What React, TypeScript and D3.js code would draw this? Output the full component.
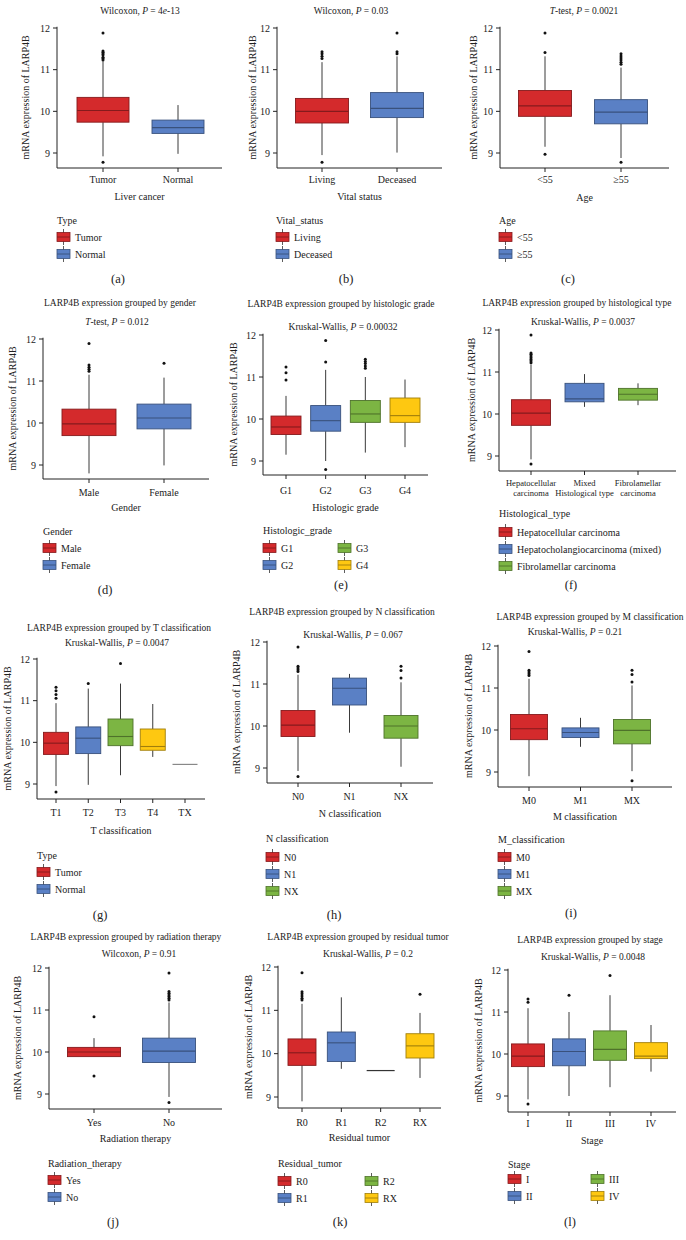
import React from 'react';
import * as d3 from 'd3';

const PALETTE = ['#D42A2C', '#5A80C5', '#7CB543', '#FEC811', '#9E9E9E'];
const FONT = 'Liberation Serif, Times New Roman, serif';

// ---- data: each box = [lowWhisker, q1, median, q3, highWhisker]
const catsA = ['Tumor', 'Normal'];
const boxA = [[8.92, 9.74, 10.02, 10.335, 11.2], [8.98, 9.47, 9.61, 9.79, 10.15]];
const outA = [[11.88, 11.45, 11.42, 11.38, 11.35, 11.3, 11.27, 11.23, 8.78], []];

const catsB = ['Living', 'Deceased'];
const boxB = [[8.95, 9.72, 10.0, 10.31, 11.18], [9.01, 9.85, 10.07, 10.45, 11.32]];
const outB = [[11.43, 11.38, 11.32, 11.27, 8.78], [11.88, 11.43, 11.38]];

const catsC = ['<55', '≥55'];
const boxC = [[9.15, 9.88, 10.13, 10.5, 11.32], [8.88, 9.7, 9.98, 10.28, 11.05]];
const outC = [[11.88, 11.41, 8.97], [11.38, 11.33, 11.28, 11.23, 11.18, 11.13, 8.78]];

const catsD = ['Male', 'Female'];
const boxD = [[8.8, 9.7, 9.98, 10.33, 11.15], [8.99, 9.86, 10.12, 10.45, 11.08]];
const outD = [[11.89, 11.38, 11.33, 11.28, 11.23], [11.42]];

const catsE = ['G1', 'G2', 'G3', 'G4'];
const boxE = [[9.15, 9.63, 9.81, 10.07, 10.55], [9.0, 9.71, 9.96, 10.32, 11.17], [9.2, 9.92, 10.12, 10.44, 11.0], [9.33, 9.92, 10.08, 10.5, 10.94]];
const outE = [[11.24, 11.1, 10.93], [11.87, 11.36, 8.8], [11.42, 11.37, 11.32, 11.26, 11.21], []];

const catsF = ['Hepatocellular\ncarcinoma', 'Mixed\nHistological type', 'Fibrolamellar\ncarcinoma'];
const boxF = [[8.92, 9.73, 10.02, 10.34, 11.18], [10.17, 10.29, 10.36, 10.73, 10.95], [10.21, 10.33, 10.47, 10.61, 10.73]];
const outF = [[11.88, 11.45, 11.42, 11.38, 11.34, 11.3, 11.26, 11.22, 8.81], [], []];

const catsG = ['T1', 'T2', 'T3', 'T4', 'TX'];
const boxG = [[8.95, 9.71, 9.98, 10.24, 10.94], [8.98, 9.73, 10.1, 10.37, 11.29], [9.21, 9.92, 10.14, 10.56, 11.41], [9.65, 9.81, 9.9, 10.32, 10.92], [9.47, 9.47, 9.47, 9.47, 9.47]];
const outG = [[11.32, 11.24, 11.15, 11.06, 8.81], [11.41], [11.89], [], []];

const catsH = ['N0', 'N1', 'NX'];
const boxH = [[8.93, 9.75, 10.02, 10.37, 11.22], [9.84, 10.5, 10.9, 11.14, 11.24], [9.03, 9.71, 10.0, 10.25, 11.04]];
const outH = [[11.88, 11.42, 11.38, 11.34, 11.3, 8.8], [], [11.42, 11.32, 11.14]];

const catsI = ['M0', 'M1', 'MX'];
const boxI = [[8.9, 9.77, 10.03, 10.37, 11.22], [9.6, 9.82, 9.94, 10.05, 10.29], [9.02, 9.67, 9.99, 10.25, 11.06]];
const outI = [[11.87, 11.42, 11.38, 11.34, 11.3], [], [11.42, 11.32, 11.14, 8.79]];

const catsJ = ['Yes', 'No'];
const boxJ = [[9.89, 9.89, 10.0, 10.11, 10.33], [8.93, 9.75, 10.02, 10.33, 11.18]];
const outJ = [[10.84, 9.43], [11.88, 11.44, 11.4, 11.36, 11.32, 11.28, 11.24, 8.8]];

const catsK = ['R0', 'R1', 'R2', 'RX'];
const boxK = [[8.9, 9.73, 10.02, 10.34, 11.15], [9.65, 9.82, 10.25, 10.5, 11.3], [9.61, 9.61, 9.61, 9.61, 9.61], [9.44, 9.9, 10.18, 10.46, 10.94]];
const outK = [[11.87, 11.43, 11.38, 11.33, 11.28, 11.24], [], [], [11.37]];

const catsL = ['I', 'II', 'III', 'IV'];
const boxL = [[8.92, 9.7, 9.95, 10.24, 11.09], [9.0, 9.72, 10.06, 10.36, 11.0], [9.21, 9.85, 10.11, 10.55, 11.4], [9.58, 9.89, 9.95, 10.27, 10.69]];
const outL = [[11.31, 11.23, 8.81], [11.4], [11.87], []];

const yTicks = [9, 10, 11, 12];

type Seg = { t: string; i?: boolean };

// ---- text and layout per panel
const panels = [
  {
    id: 'a', cats: catsA, box: boxA, out: outA,
    title: null, sub: [{ t: 'Wilcoxon, ' }, { t: 'P', i: true }, { t: ' = 4' }, { t: 'e', i: true }, { t: '-13' }],
    xTitle: 'Liver cancer', legTitle: 'Type', legend: [['Tumor', 'Normal']],
    L: { left: 57, right: 222, c0: 103, c1: 178, y12: 28, y9: 153, bottom: 168, bw: 52, tx: 0, tY: 0, sx: 140, sY: 11, ylx: 25, tickY: 179, xtY: 196, legX: 57, legCol: 0, legTY: 220, legY0: 237, lab: [118, 279] },
  },
  {
    id: 'b', cats: catsB, box: boxB, out: outB,
    title: null, sub: [{ t: 'Wilcoxon, ' }, { t: 'P', i: true }, { t: ' = 0.03' }],
    xTitle: 'Vital status', legTitle: 'Vital_status', legend: [['Living', 'Deceased']],
    L: { left: 277, right: 442, c0: 322, c1: 397, y12: 28, y9: 153, bottom: 168, bw: 53, tx: 0, tY: 0, sx: 351, sY: 11, ylx: 252, tickY: 179, xtY: 196, legX: 276, legCol: 0, legTY: 220, legY0: 237, lab: [346, 279] },
  },
  {
    id: 'c', cats: catsC, box: boxC, out: outC,
    title: null, sub: [{ t: 'T', i: true }, { t: '-test, ' }, { t: 'P', i: true }, { t: ' = 0.0021' }],
    xTitle: 'Age', legTitle: 'Age', legend: [['<55', '≥55']],
    L: { left: 500, right: 669, c0: 545, c1: 621, y12: 28, y9: 153, bottom: 168, bw: 53, tx: 0, tY: 0, sx: 584, sY: 11, ylx: 473, tickY: 179, xtY: 197, legX: 499, legCol: 0, legTY: 220, legY0: 237, lab: [568, 279] },
  },
  {
    id: 'd', cats: catsD, box: boxD, out: outD,
    title: 'LARP4B expression grouped by gender', sub: [{ t: 'T', i: true }, { t: '-test, ' }, { t: 'P', i: true }, { t: ' = 0.012' }],
    xTitle: 'Gender', legTitle: 'Gender', legend: [['Male', 'Female']],
    L: { left: 43, right: 209, c0: 89, c1: 164, y12: 339, y9: 465, bottom: 479, bw: 54, tx: 120, tY: 303, sx: 117, sY: 322, ylx: 12, tickY: 492, xtY: 507, legX: 43, legCol: 0, legTY: 531, legY0: 548, lab: [105, 590] },
  },
  {
    id: 'e', cats: catsE, box: boxE, out: outE,
    title: 'LARP4B expression grouped by histologic grade', sub: [{ t: 'Kruskal-Wallis, ' }, { t: 'P', i: true }, { t: ' = 0.00032' }],
    xTitle: 'Histologic grade', legTitle: 'Histologic_grade', legend: [['G1', 'G2'], ['G3', 'G4']],
    L: { left: 263, right: 428, c0: 286, c1: 405, y12: 335, y9: 461, bottom: 475, bw: 30, tx: 341, tY: 304, sx: 343, sY: 327, ylx: 233, tickY: 490, xtY: 507, legX: 263, legCol: 75, legTY: 530, legY0: 548, lab: [341, 585] },
  },
  {
    id: 'f', cats: catsF, box: boxF, out: outF,
    title: 'LARP4B expression grouped by histological type', sub: [{ t: 'Kruskal-Wallis, ' }, { t: 'P', i: true }, { t: ' = 0.0037' }],
    xTitle: '', legTitle: 'Histological_type', legend: [['Hepatocellular carcinoma', 'Hepatocholangiocarcinoma (mixed)', 'Fibrolamellar carcinoma']],
    L: { left: 499, right: 676, c0: 531, c1: 638, y12: 330, y9: 456, bottom: 471, bw: 39, tx: 577, tY: 303, sx: 583, sY: 322, ylx: 471, tickY: 483, xtY: 0, legX: 499, legCol: 0, legTY: 513, legY0: 532, lab: [571, 585] },
  },
  {
    id: 'g', cats: catsG, box: boxG, out: outG,
    title: 'LARP4B expression grouped by T classification', sub: [{ t: 'Kruskal-Wallis, ' }, { t: 'P', i: true }, { t: ' = 0.0047' }],
    xTitle: 'T classification', legTitle: 'Type', legend: [['Tumor', 'Normal']],
    L: { left: 37, right: 205, c0: 56, c1: 185, y12: 659, y9: 784, bottom: 799, bw: 25, tx: 119, tY: 628, sx: 117, sY: 643, ylx: 7, tickY: 812, xtY: 830, legX: 37, legCol: 0, legTY: 855, legY0: 872, lab: [100, 915] },
  },
  {
    id: 'h', cats: catsH, box: boxH, out: outH,
    title: 'LARP4B expression grouped by N classification', sub: [{ t: 'Kruskal-Wallis, ' }, { t: 'P', i: true }, { t: ' = 0.067' }],
    xTitle: 'N classification', legTitle: 'N classification', legend: [['N0', 'N1', 'NX']],
    L: { left: 267, right: 433, c0: 298, c1: 401, y12: 642, y9: 768, bottom: 783, bw: 34, tx: 342, tY: 612, sx: 353, sY: 635, ylx: 236, tickY: 796, xtY: 813, legX: 266, legCol: 0, legTY: 838, legY0: 857, lab: [334, 915] },
  },
  {
    id: 'i', cats: catsI, box: boxI, out: outI,
    title: 'LARP4B expression grouped by M classification', sub: [{ t: 'Kruskal-Wallis, ' }, { t: 'P', i: true }, { t: ' = 0.21' }],
    xTitle: 'M classification', legTitle: 'M_classification', legend: [['M0', 'M1', 'MX']],
    L: { left: 498, right: 672, c0: 529, c1: 632, y12: 646, y9: 772, bottom: 787, bw: 37, tx: 590, tY: 617, sx: 575, sY: 632, ylx: 468, tickY: 800, xtY: 816, legX: 498, legCol: 0, legTY: 839, legY0: 857, lab: [571, 913] },
  },
  {
    id: 'j', cats: catsJ, box: boxJ, out: outJ,
    title: 'LARP4B expression grouped by radiation therapy', sub: [{ t: 'Wilcoxon, ' }, { t: 'P', i: true }, { t: ' = 0.91' }],
    xTitle: 'Radiation therapy', legTitle: 'Radiation_therapy', legend: [['Yes', 'No']],
    L: { left: 49, right: 222, c0: 94, c1: 169, y12: 968, y9: 1094, bottom: 1109, bw: 53, tx: 126, tY: 937, sx: 139, sY: 954, ylx: 17, tickY: 1122, xtY: 1138, legX: 48, legCol: 0, legTY: 1163, legY0: 1180, lab: [113, 1222] },
  },
  {
    id: 'k', cats: catsK, box: boxK, out: outK,
    title: 'LARP4B expression grouped by residual tumor', sub: [{ t: 'Kruskal-Wallis, ' }, { t: 'P', i: true }, { t: ' = 0.2' }],
    xTitle: 'Residual tumor', legTitle: 'Residual_tumor', legend: [['R0', 'R1'], ['R2', 'RX']],
    L: { left: 278, right: 441, c0: 302, c1: 420, y12: 967, y9: 1097, bottom: 1108, bw: 28, tx: 358, tY: 937, sx: 368, sY: 954, ylx: 248, tickY: 1122, xtY: 1137, legX: 278, legCol: 87, legTY: 1163, legY0: 1181, lab: [340, 1222] },
  },
  {
    id: 'l', cats: catsL, box: boxL, out: outL,
    title: 'LARP4B expression grouped by stage', sub: [{ t: 'Kruskal-Wallis, ' }, { t: 'P', i: true }, { t: ' = 0.0048' }],
    xTitle: 'Stage', legTitle: 'Stage', legend: [['I', 'II'], ['III', 'IV']],
    L: { left: 508, right: 676, c0: 528, c1: 651, y12: 970, y9: 1096, bottom: 1112, bw: 33, tx: 590, tY: 940, sx: 593, sY: 957, ylx: 478, tickY: 1123, xtY: 1140, legX: 508, legCol: 83, legTY: 1164, legY0: 1179, lab: [570, 1222] },
  },
];

function Rich({ segs, x, y, size }: { segs: Seg[]; x: number; y: number; size: number }) {
  return (
    <text x={x} y={y} fontSize={size} textAnchor="middle" dominantBaseline="central" fontFamily={FONT} fill="#222">
      {segs.map((s, k) => (
        <tspan key={k} fontStyle={s.i ? 'italic' : 'normal'}>{s.t}</tspan>
      ))}
    </text>
  );
}

function LegendKey({ x, y, color }: { x: number; y: number; color: string }) {
  const dark = d3.color(color)!.darker(1.3).formatHex();
  return (
    <g>
      <line x1={x + 6.5} x2={x + 6.5} y1={y - 8} y2={y + 8} stroke="#333" strokeWidth={0.8} />
      <rect x={x} y={y - 4.5} width={13} height={9} fill={color} stroke={dark} strokeWidth={0.8} />
      <line x1={x} x2={x + 13} y1={y} y2={y} stroke={dark} strokeWidth={0.9} />
    </g>
  );
}

function Panel({ p }: { p: (typeof panels)[number] }) {
  const L = p.L;
  const y = d3.scaleLinear().domain([9, 12]).range([L.y9, L.y12]);
  const x = d3.scalePoint<string>().domain(p.cats).range([L.c0, L.c1]);
  const axisTop = y(12.03);
  const isF = p.id === 'f';
  let legIndex = 0;
  return (
    <g>
      {p.title && (
        <text x={L.tx} y={L.tY} fontSize={9.5} textAnchor="middle" dominantBaseline="central" fontFamily={FONT} fill="#222">
          {p.title}
        </text>
      )}
      <Rich segs={p.sub as Seg[]} x={L.sx} y={L.sY} size={9.5} />
      {/* boxes */}
      {p.cats.map((c, i) => {
        const [lo, q1, md, q3, hi] = p.box[i];
        const cx = x(c)!;
        const w = L.bw;
        const col = PALETTE[i];
        const single = lo === hi;
        const dark = d3.color(col)!.darker(1.3).formatHex();
        if (single) {
          return (
            <line key={c} x1={cx - w / 2} x2={cx + w / 2} y1={y(md)} y2={y(md)} stroke={i === 4 ? '#888' : '#333'} strokeWidth={1.2} />
          );
        }
        return (
          <g key={c}>
            <line x1={cx} x2={cx} y1={y(hi)} y2={y(q3)} stroke="#3a3a3a" strokeWidth={1} />
            <line x1={cx} x2={cx} y1={y(q1)} y2={y(lo)} stroke="#3a3a3a" strokeWidth={1} />
            <rect x={cx - w / 2} y={y(q3)} width={w} height={y(q1) - y(q3)} fill={col} stroke={dark} strokeWidth={0.9} />
            <line x1={cx - w / 2} x2={cx + w / 2} y1={y(md)} y2={y(md)} stroke={dark} strokeWidth={1.1} />
            {p.out[i].map((v, k) => (
              <circle key={k} cx={cx} cy={y(v)} r={1.5} fill="#111" />
            ))}
          </g>
        );
      })}
      {/* axes */}
      <line x1={L.left} x2={L.left} y1={axisTop} y2={L.bottom} stroke="#222" strokeWidth={1} />
      <line x1={L.left} x2={L.right} y1={L.bottom} y2={L.bottom} stroke="#222" strokeWidth={1} />
      {yTicks.map((t) => (
        <g key={t}>
          <line x1={L.left - 4} x2={L.left} y1={y(t)} y2={y(t)} stroke="#222" />
          <text x={L.left - 7} y={y(t)} fontSize={10} textAnchor="end" dominantBaseline="central" fontFamily={FONT} fill="#222">
            {t}
          </text>
        </g>
      ))}
      {p.cats.map((c) => {
        const cx = x(c)!;
        const lines = c.split('\n');
        return (
          <g key={c}>
            <line x1={cx} x2={cx} y1={L.bottom} y2={L.bottom + 4} stroke="#222" />
            {lines.map((ln, k) => (
              <text key={k} x={cx} y={L.tickY + k * 10} fontSize={isF ? 8.5 : 10} textAnchor="middle" dominantBaseline="central" fontFamily={FONT} fill="#222">
                {ln}
              </text>
            ))}
          </g>
        );
      })}
      <text
        transform={`translate(${L.ylx},${(axisTop + L.bottom) / 2}) rotate(-90)`}
        fontSize={10} textAnchor="middle" dominantBaseline="central" fontFamily={FONT} fill="#222"
      >
        mRNA expression of LARP4B
      </text>
      {p.xTitle && (
        <text x={(L.left + L.right) / 2} y={L.xtY} fontSize={10} textAnchor="middle" dominantBaseline="central" fontFamily={FONT} fill="#222">
          {p.xTitle}
        </text>
      )}
      {/* legend */}
      <text x={L.legX} y={L.legTY} fontSize={10} dominantBaseline="central" fontFamily={FONT} fill="#222">
        {p.legTitle}
      </text>
      {p.legend.map((col, ci) =>
        col.map((lab, ri) => {
          const idx = legIndex++;
          const lx = L.legX + ci * L.legCol;
          const ly = L.legY0 + ri * 17;
          return (
            <g key={lab}>
              <LegendKey x={lx} y={ly} color={PALETTE[idx]} />
              <text x={lx + 18} y={ly} fontSize={10} dominantBaseline="central" fontFamily={FONT} fill="#222">
                {lab}
              </text>
            </g>
          );
        })
      )}
      <text x={L.lab[0]} y={L.lab[1]} fontSize={12.5} textAnchor="middle" dominantBaseline="central" fontFamily={FONT} fill="#222">
        ({p.id})
      </text>
    </g>
  );
}

export default function App() {
  return (
    <svg width={686} height={1240} style={{ position: 'absolute', left: 0, top: 0, background: '#fff' }}>
      <rect width={686} height={1240} fill="#fff" />
      {panels.map((p) => (
        <Panel key={p.id} p={p} />
      ))}
    </svg>
  );
}
